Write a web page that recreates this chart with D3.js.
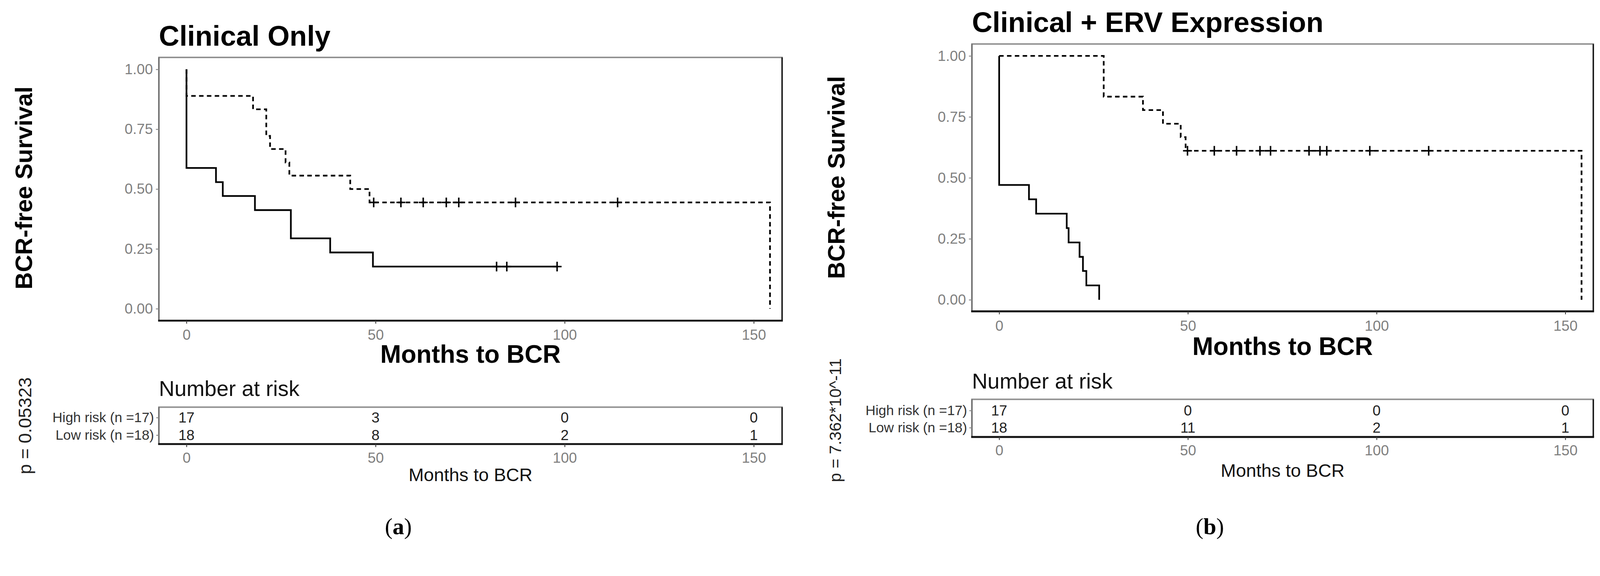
<!DOCTYPE html>
<html>
<head>
<meta charset="utf-8">
<title>BCR-free survival</title>
<script src="https://d3js.org/d3.v7.min.js"></script>
<style>
  html, body { margin: 0; padding: 0; background: #fff; overflow: hidden; }
  svg { display: block; }
  text { font-family: "Liberation Sans", Arial, sans-serif; }
</style>
</head>
<body>
<div id="chart"></div>
<script>
// ---- data ----
const riskTimes = [0, 50, 100, 150];
const xTicks = [0, 50, 100, 150];
const yTicks = [0, 0.25, 0.5, 0.75, 1];
const groupNames = ["High risk (n =17)", "Low risk (n =18)"];

// Clinical only: step points [months, survival]
const aHighSteps = [[0, 1], [0, 0.588], [7.8, 0.529], [9.6, 0.471], [18.1, 0.412], [27.6, 0.294], [38.0, 0.235], [49.3, 0.176], [98, 0.176]];
const aHighCensor = [82, 84.7, 98];
const aLowSteps = [[0, 1], [0, 0.889], [17.6, 0.833], [21.1, 0.722], [22.1, 0.667], [26.2, 0.611], [27.2, 0.556], [43.3, 0.5], [48.4, 0.444], [154.3, 0]];
const aLowCensor = [49.5, 56.7, 62.6, 68.7, 72, 87, 114];
const aRiskHigh = [17, 3, 0, 0];
const aRiskLow = [18, 8, 2, 1];

// Clinical + ERV expression
const bHighSteps = [[0, 1], [0, 0.471], [7.9, 0.412], [9.8, 0.353], [17.9, 0.294], [18.4, 0.235], [21.3, 0.176], [22.2, 0.118], [23.1, 0.059], [26.5, 0]];
const bHighCensor = [];
const bLowSteps = [[0, 1], [27.7, 0.833], [38.1, 0.778], [43.4, 0.722], [48.1, 0.667], [49.4, 0.611], [154.3, 0]];
const bLowCensor = [49.9, 57, 62.9, 69.1, 71.9, 82.1, 85, 86.8, 98.2, 113.8];
const bRiskHigh = [17, 0, 0, 0];
const bRiskLow = [18, 11, 2, 1];

const W = 4290, H = 1475;
// viewBox so the whole figure always fits the window
const svg = d3.select("#chart").append("svg")
    .attr("viewBox", `0 0 ${W} ${H}`)
    .attr("preserveAspectRatio", "xMinYMin meet")
    .style("width", "100%").style("height", "auto")
    .style("background", "#fff");

// layout of the two panels (pixels)
const panels = [
  { title: "Clinical Only", titleSize: 76, pval: "p = 0.05323", pSize: 49, caption: "a",
    left: 426, right: 2097, top: 154, bottom: 860, x0: 500, x150: 2021, y1: 186, y0: 828,
    titleY: 123, yTitleX: 64, yTitleY: 504, xTitleY: 973,
    tTop: 1092, tBottom: 1191, rows: [1120, 1167], narY: 1062, txTitleY: 1274,
    pX: 67, pY: 1142, capX: 1068, capY: 1412,
    high: aHighSteps, highC: aHighCensor, low: aLowSteps, lowC: aLowCensor, riskH: aRiskHigh, riskL: aRiskLow },
  { title: "Clinical + ERV Expression", titleSize: 76, pval: "p = 7.362*10^-11", pSize: 44, caption: "b",
    left: 2606, right: 4272, top: 118, bottom: 835, x0: 2679, x150: 4197, y1: 150, y0: 804,
    titleY: 86, yTitleX: 2242, yTitleY: 476, xTitleY: 952,
    tTop: 1071, tBottom: 1172, rows: [1101, 1147], narY: 1042, txTitleY: 1262,
    pX: 2240, pY: 1127, capX: 3244, capY: 1412,
    high: bHighSteps, highC: bHighCensor, low: bLowSteps, lowC: bLowCensor, riskH: bRiskHigh, riskL: bRiskLow }
];

function frame(g, x1, y1, x2, y2) {
  g.append("rect").attr("x", x1).attr("y", y1).attr("width", x2 - x1).attr("height", y2 - y1)
    .attr("fill", "none").attr("stroke", "#8f8f8f").attr("stroke-width", 4);
  g.append("line").attr("x1", x1).attr("x2", x1).attr("y1", y1).attr("y2", y2)
    .attr("stroke", "#666").attr("stroke-width", 3);
  g.append("line").attr("x1", x2).attr("x2", x2).attr("y1", y1).attr("y2", y2)
    .attr("stroke", "#111").attr("stroke-width", 3.5);
  g.append("line").attr("x1", x1 - 2).attr("x2", x2 + 2).attr("y1", y2).attr("y2", y2)
    .attr("stroke", "#111").attr("stroke-width", 5);
}

function styleAxis(ax, tickColor, labelColor, size) {
  ax.select(".domain").remove();
  ax.selectAll(".tick line").attr("stroke", tickColor).attr("stroke-width", 2.5);
  ax.selectAll(".tick text").attr("fill", labelColor).style("font-size", size + "px")
    .style("font-family", "'Liberation Sans', Arial, sans-serif");
}

panels.forEach(p => {
  const g = svg.append("g");
  const x = d3.scaleLinear().domain([0, 150]).range([p.x0, p.x150]);
  const y = d3.scaleLinear().domain([0, 1]).range([p.y0, p.y1]);

  // title
  g.append("text").attr("x", p.left).attr("y", p.titleY)
    .style("font-size", p.titleSize + "px").style("font-weight", "bold").attr("fill", "#000")
    .text(p.title);

  frame(g, p.left, p.top, p.right, p.bottom);

  const yAx = g.append("g").attr("transform", `translate(${p.left},0)`)
    .call(d3.axisLeft(y).tickValues(yTicks).tickFormat(d3.format(".2f")).tickSize(8).tickPadding(8));
  styleAxis(yAx, "#8a8a8a", "#808080", 39);

  const xAx = g.append("g").attr("transform", `translate(0,${p.bottom})`)
    .call(d3.axisBottom(x).tickValues(xTicks).tickSize(8).tickPadding(16));
  styleAxis(xAx, "#444", "#808080", 39);

  g.append("text")
    .attr("transform", `translate(${p.yTitleX},${p.yTitleY}) rotate(-90)`)
    .attr("text-anchor", "middle").attr("dominant-baseline", "central")
    .style("font-size", "64px").style("font-weight", "bold").text("BCR-free Survival");

  g.append("text").attr("x", (p.left + p.right) / 2).attr("y", p.xTitleY)
    .attr("text-anchor", "middle").style("font-size", "67px").style("font-weight", "bold")
    .text("Months to BCR");

  // survival curves
  const line = d3.line().x(d => x(d[0])).y(d => y(d[1])).curve(d3.curveStepAfter);
  g.append("path").datum(p.low).attr("d", line).attr("fill", "none")
    .attr("stroke", "#000").attr("stroke-width", 4.5).attr("stroke-dasharray", "12,9");
  g.append("path").datum(p.high).attr("d", line).attr("fill", "none")
    .attr("stroke", "#000").attr("stroke-width", 4.5);

  // censor marks sit on the last non-zero level of each curve
  const lastVal = steps => steps[steps.length - 1][1] === 0 ? steps[steps.length - 2][1] : steps[steps.length - 1][1];
  const cens = [].concat(
    p.highC.map(t => [t, lastVal(p.high)]),
    p.lowC.map(t => [t, lastVal(p.low)]));
  g.selectAll(".cens").data(cens).enter().append("path")
    .attr("class", "cens")
    .attr("transform", d => `translate(${x(d[0])},${y(d[1])})`)
    .attr("d", "M-12,0H12M0,-13V13")
    .attr("stroke", "#000").attr("stroke-width", 4);

  // risk table
  g.append("text").attr("x", p.left).attr("y", p.narY)
    .style("font-size", "58px").attr("fill", "#111").text("Number at risk");

  frame(g, p.left, p.tTop, p.right, p.tBottom);

  const ry = d3.scaleOrdinal().domain(groupNames).range(p.rows);
  const rAx = g.append("g").attr("transform", `translate(${p.left},0)`)
    .call(d3.axisLeft(ry).tickSize(7).tickPadding(6));
  styleAxis(rAx, "#8a8a8a", "#333", 37);

  const rows = [p.riskH, p.riskL];
  rows.forEach((vals, i) => {
    g.selectAll(".risk" + i).data(vals).enter().append("text")
      .attr("x", (d, j) => x(riskTimes[j])).attr("y", p.rows[i])
      .attr("text-anchor", "middle").attr("dominant-baseline", "central")
      .style("font-size", "39px").attr("fill", "#222").text(d => d);
  });

  const tAx = g.append("g").attr("transform", `translate(0,${p.tBottom})`)
    .call(d3.axisBottom(x).tickValues(riskTimes).tickSize(8).tickPadding(14));
  styleAxis(tAx, "#444", "#808080", 39);

  g.append("text").attr("x", (p.left + p.right) / 2).attr("y", p.txTitleY)
    .attr("text-anchor", "middle").attr("dominant-baseline", "central")
    .style("font-size", "49px").attr("fill", "#111").text("Months to BCR");

  g.append("text")
    .attr("transform", `translate(${p.pX},${p.pY}) rotate(-90)`)
    .attr("text-anchor", "middle").attr("dominant-baseline", "central")
    .style("font-size", p.pSize + "px").attr("fill", "#222").text(p.pval);

  // panel caption
  const cap = g.append("text").attr("x", p.capX).attr("y", p.capY)
    .attr("text-anchor", "middle").attr("dominant-baseline", "central")
    .style("font-family", "'Liberation Serif', 'DejaVu Serif', serif").style("font-size", "62px");
  cap.append("tspan").text("(");
  cap.append("tspan").style("font-weight", "bold").text(p.caption);
  cap.append("tspan").text(")");
});
</script>
</body>
</html>
